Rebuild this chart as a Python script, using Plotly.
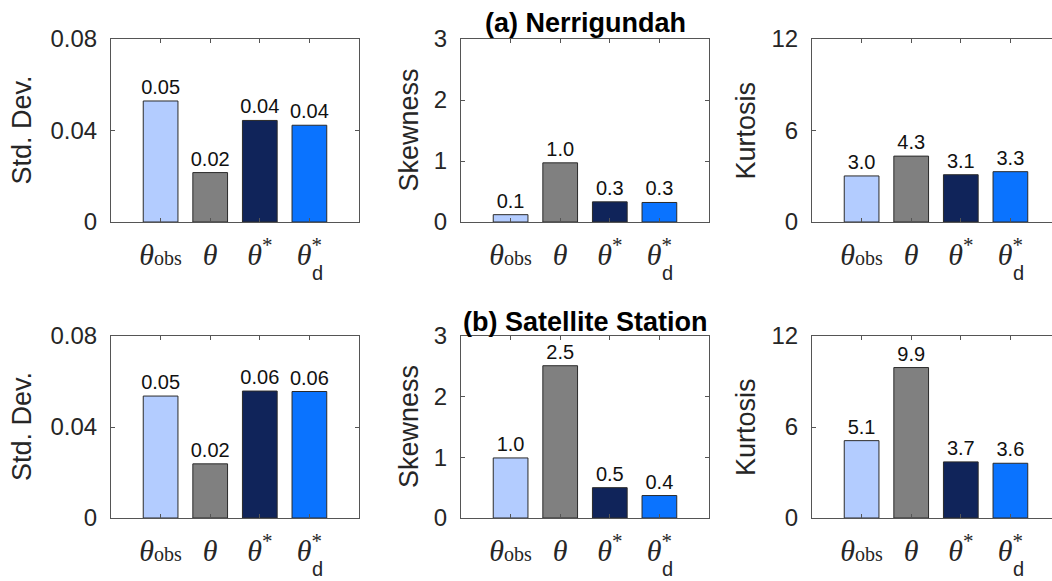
import plotly.graph_objects as go

# Category labels (theta variants) and bar colours
categories = [1, 2, 3, 4]
cat_labels = ["<i>θ</i><span style=\"font-size:20px\">obs</span>",
              "<i>θ</i>",
              "<i>θ</i><sup>*</sup>",
              "<i>θ</i><sup>*</sup>"]
bar_colors = ["#B3CCFF", "#808080", "#10245A", "#0A73FF"]

# Statistics per site
nerri_std = [0.0529, 0.0216, 0.0444, 0.0423]
nerri_skew = [0.12, 0.97, 0.33, 0.32]
nerri_kurt = [3.02, 4.32, 3.10, 3.30]

sat_std = [0.0536, 0.0238, 0.0558, 0.0556]
sat_skew = [0.99, 2.51, 0.50, 0.37]
sat_kurt = [5.10, 9.92, 3.70, 3.61]

site_titles = ["(a) Nerrigundah", "(b) Satellite Station"]
stat_names = ["Std. Dev.", "Skewness", "Kurtosis"]
y_max = [0.08, 3, 12]
y_ticks = [[0, 0.04, 0.08], [0, 1, 2, 3], [0, 6, 12]]
y_ticktext = [["0", "0.04", "0.08"], ["0", "1", "2", "3"], ["0", "6", "12"]]
label_fmt = ["%{y:.2f}", "%{y:.1f}", "%{y:.1f}"]

rows = [[nerri_std, nerri_skew, nerri_kurt], [sat_std, sat_skew, sat_kurt]]

W, H = 1052, 581
col_px = [(111, 359), (461, 709), (812, 1060)]
row_px = [(39, 222), (336, 518)]

AX_COLOR = "#555555"
TXT_COLOR = "#262626"
SANS = "Liberation Sans, Arial, sans-serif"
SERIF = "Liberation Serif, Times New Roman, serif"

fig = go.Figure()
annotations = []
k = 0
for r in range(2):
    for c in range(3):
        k += 1
        xa = "x" if k == 1 else f"x{k}"
        ya = "y" if k == 1 else f"y{k}"
        vals = rows[r][c]
        fig.add_trace(go.Bar(
            x=categories, y=vals, xaxis=xa, yaxis=ya,
            marker=dict(color=bar_colors, line=dict(color="#2a2a2a", width=1)),
            width=0.7,
            texttemplate=label_fmt[c], textposition="outside",
            textfont=dict(family=SANS, size=20, color="#111111"),
            constraintext="none", cliponaxis=False, showlegend=False,
        ))
        x0, x1 = col_px[c]
        clip = min(x1, W)
        xr = 5 * (clip - x0) / (x1 - x0)
        y0, y1 = row_px[r]
        xkey = "xaxis" if k == 1 else f"xaxis{k}"
        ykey = "yaxis" if k == 1 else f"yaxis{k}"
        fig.layout[xkey] = dict(
            domain=[x0 / W, clip / W], anchor=ya, range=[0, xr],
            tickvals=categories, ticktext=cat_labels,
            tickfont=dict(family=SERIF, size=30, color=TXT_COLOR),
            ticks="inside", ticklen=4, tickcolor=AX_COLOR,
            showline=True, linecolor=AX_COLOR, linewidth=1,
            mirror="ticks", showgrid=False, zeroline=False,
            ticklabelstandoff=6, automargin=False, fixedrange=True,
        )
        fig.layout[ykey] = dict(
            domain=[1 - y1 / H, 1 - y0 / H], anchor=xa,
            range=[0, y_max[c]], tickvals=y_ticks[c], ticktext=y_ticktext[c],
            tickfont=dict(family=SANS, size=24, color=TXT_COLOR),
            ticks="inside", ticklen=4, tickcolor=AX_COLOR,
            showline=True, linecolor=AX_COLOR, linewidth=1,
            mirror=("ticks" if x1 <= W else False),
            showgrid=False, zeroline=False,
            ticklabelstandoff=8, automargin=False, fixedrange=True,
        )
        # stacked subscript "d" under the star of the last category
        annotations.append(dict(
            text="d", xref=xa, yref=f"{ya} domain", x=4, y=0,
            xshift=8, yshift=-51, xanchor="center", yanchor="middle",
            showarrow=False, font=dict(family=SANS, size=20, color=TXT_COLOR),
        ))

# y-axis titles
title_x = [22, 409, 746]
for r in range(2):
    y0, y1 = row_px[r]
    for c in range(3):
        annotations.append(dict(
            text=stat_names[c], xref="paper", yref="paper",
            x=title_x[c] / W, y=1 - (y0 + y1) / 2 / H,
            xanchor="center", yanchor="middle", textangle=-90,
            showarrow=False, font=dict(family=SANS, size=27, color=TXT_COLOR),
        ))

# site titles over the middle column
title_y = [23, 322]
for r in range(2):
    annotations.append(dict(
        text=f"<b>{site_titles[r]}</b>", xref="paper", yref="paper",
        x=585 / W, y=1 - title_y[r] / H, xanchor="center", yanchor="middle",
        showarrow=False, font=dict(family=SANS, size=27, color="#000000"),
    ))

fig.update_layout(
    width=W, height=H, margin=dict(l=0, r=0, t=0, b=0, autoexpand=False),
    paper_bgcolor="white", plot_bgcolor="white",
    annotations=annotations, bargap=0.3,
)

fig.write_html("out.html")
